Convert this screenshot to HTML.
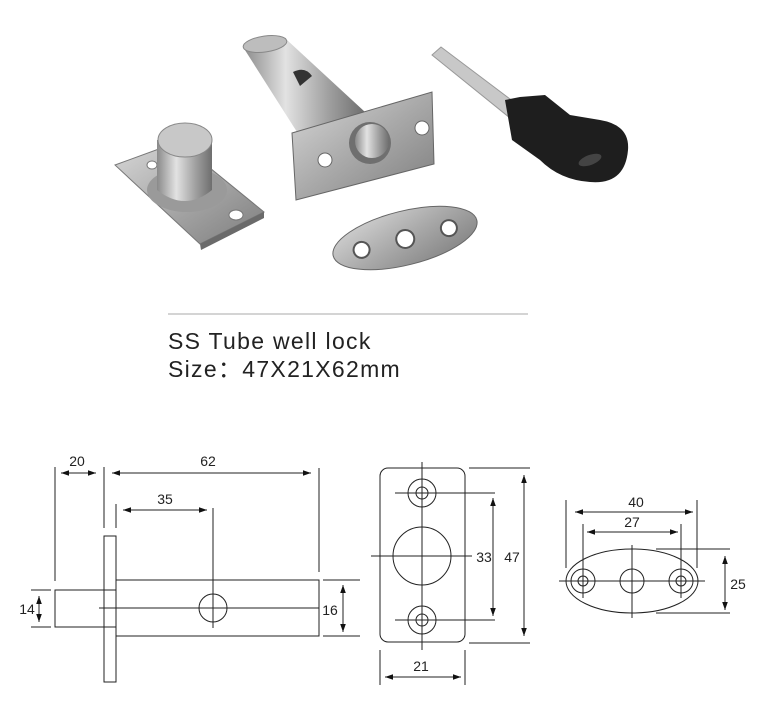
<!DOCTYPE html>
<html><head><meta charset="utf-8"><style>
html,body{margin:0;padding:0;background:#fff;width:777px;height:719px;overflow:hidden}
svg{display:block}
text{font-family:"Liberation Sans",Arial,sans-serif;fill:#222}
</style></head><body>
<svg width="777" height="719" viewBox="0 0 777 719" xmlns="http://www.w3.org/2000/svg">
<defs>
<linearGradient id="m" x1="0" y1="0" x2="1" y2="1"><stop offset="0" stop-color="#d8d8d8"/><stop offset=".5" stop-color="#a9a9a9"/><stop offset="1" stop-color="#7d7d7d"/></linearGradient>
<linearGradient id="t" x1="0" y1="0" x2="1" y2="0"><stop offset="0" stop-color="#8a8a8a"/><stop offset=".35" stop-color="#e2e2e2"/><stop offset=".7" stop-color="#a0a0a0"/><stop offset="1" stop-color="#6e6e6e"/></linearGradient>
<marker id="a" viewBox="0 0 10 10" refX="10" refY="5" markerWidth="8" markerHeight="8" orient="auto-start-reverse"><path d="M0,1.5 L10,5 L0,8.5 z" fill="#111"/></marker>
</defs>
<!-- Photo: left cap plate -->
<polygon points="115,165 178,142 264,212 200,244" fill="url(#m)" stroke="#777" stroke-width="1"/>
<polygon points="200,244 264,212 264,218 201,250" fill="#6a6a6a"/>
<ellipse cx="236" cy="215" rx="7" ry="5" fill="#fff" stroke="#777"/>
<ellipse cx="152" cy="165" rx="5" ry="4" fill="#fff" stroke="#777"/>
<ellipse cx="187" cy="190" rx="40" ry="22" fill="#9a9a9a"/>
<path d="M157,140 L157,190 Q185,212 212,190 L212,140 Z" fill="url(#t)"/>
<ellipse cx="185" cy="140" rx="27" ry="17" fill="#c8c8c8" stroke="#888"/>
<!-- tube -->
<polygon points="243,47 287,40 365,112 297,132" fill="url(#t)"/>
<ellipse cx="265" cy="44" rx="22" ry="8" fill="#bdbdbd" stroke="#888" transform="rotate(-8 265 44)"/>
<path d="M293,72 Q305,66 312,76 L300,86 Z" fill="#333"/>
<!-- flange -->
<polygon points="292,133 432,92 434,164 296,200" fill="url(#m)" stroke="#666"/>
<circle cx="325" cy="160" r="7" fill="#fff" stroke="#666"/>
<circle cx="422" cy="128" r="7" fill="#fff" stroke="#666"/>
<circle cx="370" cy="143" r="21" fill="#6f6f6f"/>
<circle cx="372" cy="141" r="17" fill="url(#t)"/>
<!-- oval plate -->
<g transform="rotate(-14 405 238)"><ellipse cx="405" cy="238" rx="74" ry="27" fill="url(#m)" stroke="#666"/>
<circle cx="360" cy="239" r="8" fill="#fff" stroke="#555" stroke-width="2"/><circle cx="405" cy="239" r="9" fill="#fff" stroke="#555" stroke-width="2"/><circle cx="450" cy="239" r="8" fill="#fff" stroke="#555" stroke-width="2"/></g>
<!-- key -->
<polygon points="432,55 441,47 522,108 510,118" fill="#c8c8c8" stroke="#999"/>
<path d="M505,100 L520,97 L545,95 L570,115 L600,120 Q630,125 628,150 Q625,185 590,182 Q560,180 540,160 L512,140 Z" fill="#1e1e1e"/>
<ellipse cx="590" cy="160" rx="12" ry="5" fill="#444" transform="rotate(-20 590 160)"/>
<!-- caption -->
<line x1="168" y1="314" x2="528" y2="314" stroke="#aaa" stroke-width="1"/>
<text x="168" y="349" font-size="23" letter-spacing="1.3">SS Tube well lock</text>
<text x="168" y="377" font-size="23" letter-spacing="1.3">Size：47X21X62mm</text>

<g stroke="#222" stroke-width="1" fill="none">
<line x1="55" y1="467" x2="55" y2="581"/>
<line x1="104" y1="467" x2="104" y2="528"/>
<line x1="116" y1="504" x2="116" y2="528"/>
<line x1="319" y1="468" x2="319" y2="572"/>
<line x1="213" y1="508" x2="213" y2="628"/>
<line x1="61" y1="473" x2="96" y2="473" marker-start="url(#a)" marker-end="url(#a)"/>
<line x1="112" y1="473" x2="311" y2="473" marker-start="url(#a)" marker-end="url(#a)"/>
<line x1="123" y1="510" x2="207" y2="510" marker-start="url(#a)" marker-end="url(#a)"/>
<rect x="104" y="536" width="12" height="146"/>
<rect x="116" y="580" width="203" height="56"/>
<rect x="55" y="590" width="61" height="37"/>
<line x1="99" y1="608" x2="319" y2="608"/>
<circle cx="213" cy="608" r="14"/>
<line x1="31" y1="590" x2="51" y2="590"/><line x1="31" y1="627" x2="51" y2="627"/>
<line x1="39" y1="596" x2="39" y2="622" marker-start="url(#a)" marker-end="url(#a)"/>
<line x1="323" y1="580" x2="360" y2="580"/><line x1="323" y1="636" x2="360" y2="636"/>
<line x1="343" y1="585" x2="343" y2="632" marker-start="url(#a)" marker-end="url(#a)"/>
<rect x="380" y="468" width="85" height="174" rx="8"/>
<line x1="422" y1="462" x2="422" y2="650"/>
<circle cx="422" cy="493" r="14"/><circle cx="422" cy="493" r="6"/>
<circle cx="422" cy="620" r="14"/><circle cx="422" cy="620" r="6"/>
<circle cx="422" cy="556" r="29"/>
<line x1="371" y1="556" x2="472" y2="556"/>
<line x1="395" y1="493" x2="495" y2="493"/><line x1="395" y1="620" x2="495" y2="620"/>
<line x1="493" y1="498" x2="493" y2="616" marker-start="url(#a)" marker-end="url(#a)"/>
<line x1="469" y1="468" x2="530" y2="468"/><line x1="469" y1="643" x2="530" y2="643"/>
<line x1="524" y1="475" x2="524" y2="636" marker-start="url(#a)" marker-end="url(#a)"/>
<line x1="380" y1="650" x2="380" y2="685"/><line x1="465" y1="650" x2="465" y2="685"/>
<line x1="385" y1="677" x2="461" y2="677" marker-start="url(#a)" marker-end="url(#a)"/>
<ellipse cx="632" cy="581" rx="66" ry="32"/>
<circle cx="583" cy="581" r="12"/><circle cx="583" cy="581" r="5"/>
<circle cx="632" cy="581" r="12"/>
<circle cx="681" cy="581" r="12"/><circle cx="681" cy="581" r="5"/>
<line x1="559" y1="581" x2="705" y2="581"/>
<line x1="632" y1="545" x2="632" y2="618"/>
<line x1="583" y1="524" x2="583" y2="598"/><line x1="681" y1="524" x2="681" y2="598"/>
<line x1="566" y1="500" x2="566" y2="568"/><line x1="697" y1="500" x2="697" y2="568"/>
<line x1="575" y1="512" x2="693" y2="512" marker-start="url(#a)" marker-end="url(#a)"/>
<line x1="587" y1="532" x2="678" y2="532" marker-start="url(#a)" marker-end="url(#a)"/>
<line x1="656" y1="549" x2="730" y2="549"/><line x1="656" y1="613" x2="730" y2="613"/>
<line x1="725" y1="556" x2="725" y2="610" marker-start="url(#a)" marker-end="url(#a)"/>
</g>
<g font-size="14">
<text x="77" y="466" text-anchor="middle">20</text>
<text x="208" y="466" text-anchor="middle">62</text>
<text x="165" y="504" text-anchor="middle">35</text>
<text x="27" y="614" text-anchor="middle">14</text>
<text x="330" y="615" text-anchor="middle">16</text>
<text x="484" y="562" text-anchor="middle">33</text>
<text x="512" y="562" text-anchor="middle">47</text>
<text x="421" y="671" text-anchor="middle">21</text>
<text x="636" y="507" text-anchor="middle">40</text>
<text x="632" y="527" text-anchor="middle">27</text>
<text x="738" y="589" text-anchor="middle">25</text>
</g>
</svg>
</body></html>
